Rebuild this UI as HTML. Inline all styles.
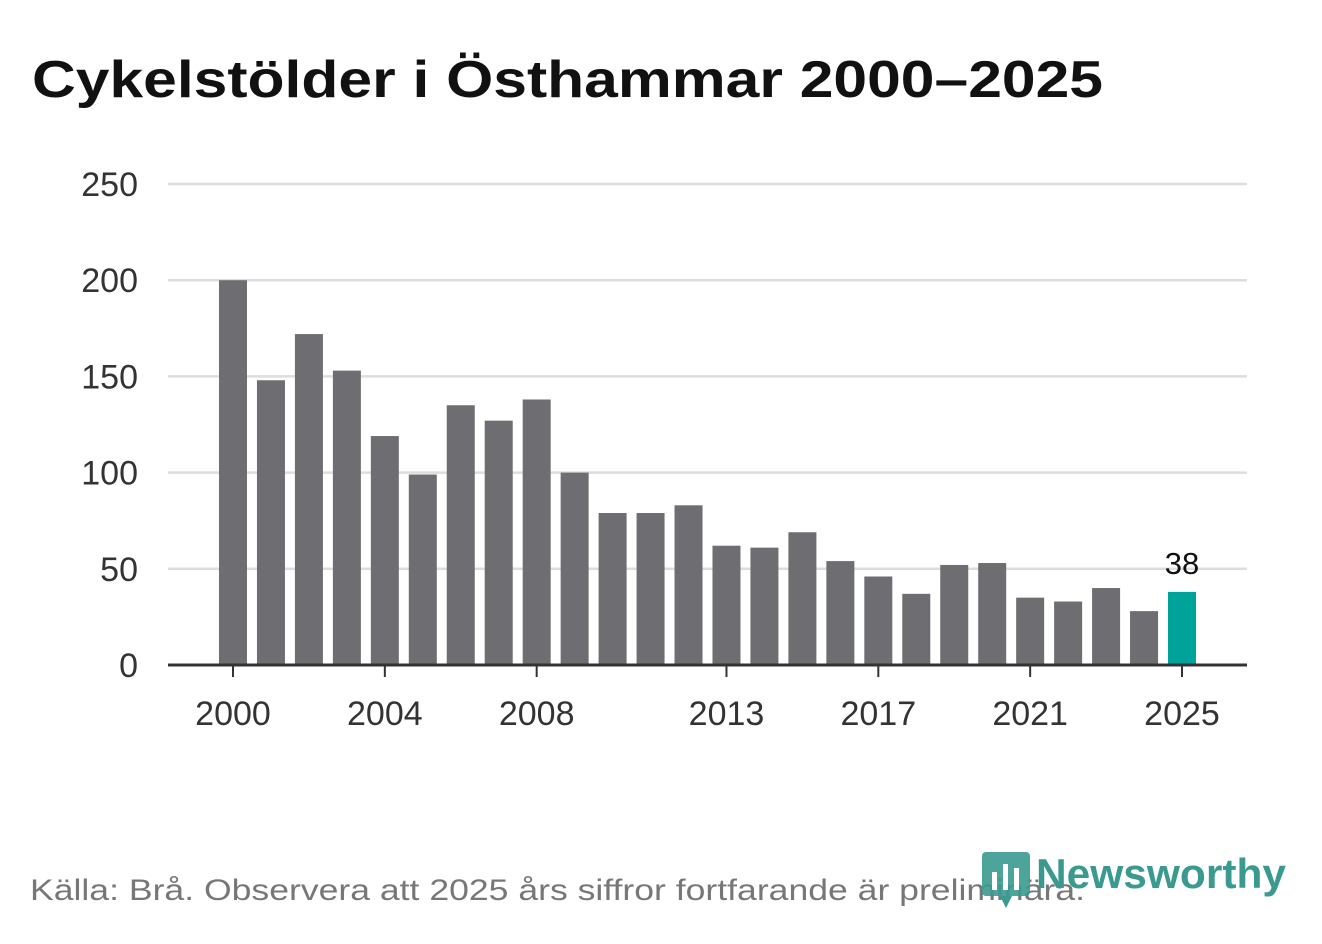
<!DOCTYPE html>
<html><head><meta charset="utf-8"><style>
body{margin:0;width:1322px;height:939px;background:#fff;overflow:hidden;font-family:"Liberation Sans","DejaVu Sans",sans-serif}
</style></head><body>
<svg width="1322" height="939">
<text x="32" y="97" font-size="52" font-weight="bold" fill="#111" textLength="1071" lengthAdjust="spacingAndGlyphs">Cykelstölder i Östhammar 2000–2025</text>
<g id="grid"></g><g id="bars"></g><g id="xaxis"></g>
<text x="30" y="900" font-size="30" fill="#777" textLength="1055" lengthAdjust="spacingAndGlyphs">Källa: Brå. Observera att 2025 års siffror fortfarande är preliminära.</text>
<g>
<rect x="982" y="852" width="48" height="44" rx="4" fill="#3a9a8f" opacity="0.9"/>
<path d="M1000 896 L1012 896 L1006 908 Z" fill="#3a9a8f"/>
<rect x="992" y="872" width="5" height="18" fill="#fff"/><rect x="1003" y="864" width="5" height="26" fill="#fff"/><rect x="1014" y="868" width="5" height="22" fill="#fff"/>
<text x="1036" y="888" font-size="42" font-weight="bold" fill="#3a9a8f" textLength="250" lengthAdjust="spacingAndGlyphs">Newsworthy</text>
</g>
</svg>
<script>
const years=[2000,2001,2002,2003,2004,2005,2006,2007,2008,2009,2010,2011,2012,2013,2014,2015,2016,2017,2018,2019,2020,2021,2022,2023,2024,2025];
const values=[200,148,172,153,119,99,135,127,138,100,79,79,83,62,61,69,54,46,37,52,53,35,33,40,28,38];
const yTicks=[0,50,100,150,200,250];
const xTickYears=[2000,2004,2008,2013,2017,2021,2025];
const NS="http://www.w3.org/2000/svg";
const y=v=>665-v*(481/250);
const x=yr=>233+(yr-2000)*(949/25);
function mk(t,a,p){const e=document.createElementNS(NS,t);for(const k in a)e.setAttribute(k,a[k]);p.appendChild(e);return e;}
const grid=document.getElementById('grid'),bars=document.getElementById('bars'),xa=document.getElementById('xaxis');
yTicks.forEach(t=>{
 if(t>0){const l=mk('line',{x1:168,x2:1247,y1:y(t),y2:y(t),stroke:'#ddd','stroke-width':2.5},grid);
 
 }
 const tx=mk('text',{x:138,y:y(t)+12,'font-size':34,fill:'#333','text-anchor':'end'},grid);tx.textContent=t;
 
 
});
years.forEach((yr,i)=>{
 const last=i===years.length-1;
 const r=mk('rect',{x:x(yr)-14,y:y(values[i]),width:28,height:665-y(values[i]),fill:last?'#00a39a':'#6e6d72'},bars);
 
 
 if(last){const t=mk('text',{x:x(yr),y:y(values[i])-18,'font-size':31,fill:'#111','text-anchor':'middle'},bars);t.textContent=values[i];
 
 }
});
const ax=mk('line',{x1:168,x2:1247,y1:665,y2:665,stroke:'#333','stroke-width':3},xa);


xTickYears.forEach(yr=>{
 mk('line',{x1:x(yr),x2:x(yr),y1:665,y2:677,stroke:'#333','stroke-width':2},xa);
 const t=mk('text',{x:x(yr),y:725,'font-size':34,fill:'#333','text-anchor':'middle'},xa);t.textContent=yr;
 
 
});
</script>
</body></html>
